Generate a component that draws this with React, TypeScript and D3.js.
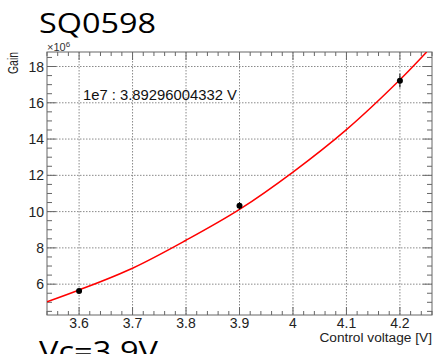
import { useEffect } from 'react';
import * as d3 from 'd3';

const voltages = [3.6, 3.9, 4.2];
const gains = [5.63, 10.32, 17.22];
const gainErrors = [0.1, 0.2, 0.38];

// fitted curve
const fitVoltages = [3.54, 3.6, 3.7, 3.8, 3.9, 4.0, 4.1, 4.2, 4.25];
const fitGains = [5.03, 5.68, 6.88, 8.42, 10.12, 12.18, 14.52, 17.27, 18.8];

const xTicks = [3.6, 3.7, 3.8, 3.9, 4.0, 4.1, 4.2];
const xTickLabels = ['3.6', '3.7', '3.8', '3.9', '4', '4.1', '4.2'];
const yTicks = [6, 8, 10, 12, 14, 16, 18];

const W = 437;
const H = 354;
const left = 47;
const right = 432;
const top = 52;
const bottom = 315;

export default function App() {
  useEffect(() => {
    document.body.style.margin = '0';
    document.body.style.overflow = 'hidden';
  }, []);

  const x = d3.scaleLinear().domain([3.54, 4.26]).range([left, right]);
  const y = d3.scaleLinear().domain([4.3, 18.8]).range([bottom, top]);

  const xMinor = d3.range(3.54, 4.2601, 0.02).filter((v) => !xTicks.some((t) => Math.abs(t - v) < 1e-6));
  const yMinor = d3.range(4.5, 18.8, 0.5).filter((v) => !yTicks.some((t) => Math.abs(t - v) < 1e-6));

  const fitLine = d3
    .line<number>()
    .x((_, i) => x(fitVoltages[i]))
    .y((d) => y(d))
    .curve(d3.curveCatmullRom);

  const frame = '#666';
  const gridColor = '#8a8a8a';
  const font = 'Arial, "Liberation Sans", sans-serif';
  const bigFont = '"Open Sans", "Noto Sans", sans-serif';

  return (
    <svg width={W} height={H} style={{ display: 'block', background: '#fff' }}>
      <defs>
        <clipPath id="plot">
          <rect x={left} y={top} width={right - left} height={bottom - top} />
        </clipPath>
      </defs>

      <text x={39} y={33} fontFamily={bigFont} fontSize={28} textLength={117} lengthAdjust="spacingAndGlyphs" fill="#000">
        SQ0598
      </text>
      {/* sits partly below the window, as in the slide */}
      <text x={39} y={361} fontFamily={bigFont} fontSize={28} textLength={119} lengthAdjust="spacingAndGlyphs" fill="#000">
        Vc=3.9V
      </text>

      {/* grid */}
      <g stroke={gridColor} strokeWidth={1} strokeDasharray="1.5,1.5">
        {xTicks.map((t) => (
          <line key={'gx' + t} x1={x(t)} x2={x(t)} y1={top} y2={bottom} />
        ))}
        {yTicks.map((t) => (
          <line key={'gy' + t} x1={left} x2={right} y1={y(t)} y2={y(t)} />
        ))}
      </g>

      {/* ticks on all four sides */}
      <g stroke={frame} strokeWidth={1}>
        {xTicks.map((t) => (
          <g key={'tx' + t}>
            <line x1={x(t)} x2={x(t)} y1={bottom} y2={bottom - 8} />
            <line x1={x(t)} x2={x(t)} y1={top} y2={top + 8} />
          </g>
        ))}
        {xMinor.map((t) => (
          <g key={'mx' + t}>
            <line x1={x(t)} x2={x(t)} y1={bottom} y2={bottom - 4} />
            <line x1={x(t)} x2={x(t)} y1={top} y2={top + 4} />
          </g>
        ))}
        {yTicks.map((t) => (
          <g key={'ty' + t}>
            <line x1={left} x2={left + 9} y1={y(t)} y2={y(t)} />
            <line x1={right} x2={right - 9} y1={y(t)} y2={y(t)} />
          </g>
        ))}
        {yMinor.map((t) => (
          <g key={'my' + t}>
            <line x1={left} x2={left + 5} y1={y(t)} y2={y(t)} />
            <line x1={right} x2={right - 5} y1={y(t)} y2={y(t)} />
          </g>
        ))}
      </g>

      <rect x={left} y={top} width={right - left} height={bottom - top} fill="none" stroke={frame} strokeWidth={1} />

      {/* fit */}
      <path d={fitLine(fitGains) ?? ''} fill="none" stroke="#ff0000" strokeWidth={1.5} clipPath="url(#plot)" />

      {/* data points with errors */}
      {voltages.map((v, i) => (
        <g key={'p' + v}>
          <line x1={x(v)} x2={x(v)} y1={y(gains[i] - gainErrors[i])} y2={y(gains[i] + gainErrors[i])} stroke="#000" strokeWidth={1} />
          <circle cx={x(v)} cy={y(gains[i])} r={3} fill="#000" />
        </g>
      ))}

      <text x={83} y={100} fontFamily={font} fontSize={14.8} fill="#111">
        1e7 : 3.89296004332 V
      </text>

      {/* axis labels */}
      <g fontFamily={font} fontSize={14} fill="#222">
        {xTicks.map((t, i) => (
          <text key={'lx' + t} x={x(t)} y={328} textAnchor="middle">
            {xTickLabels[i]}
          </text>
        ))}
        {yTicks.map((t) => (
          <text key={'ly' + t} x={44} y={y(t) + 5} textAnchor="end">
            {t}
          </text>
        ))}
      </g>

      <text x={right} y={342} textAnchor="end" fontFamily={font} fontSize={13.7} fill="#222">
        Control voltage [V]
      </text>
      <text
        transform={`translate(18,${top}) rotate(-90)`}
        textAnchor="end"
        fontFamily={font}
        fontSize={14}
        textLength={22}
        lengthAdjust="spacingAndGlyphs"
        fill="#222"
      >
        Gain
      </text>
      <text x={47} y={51} fontFamily={font} fontSize={11} fill="#333">
        ×10
        <tspan dy={-4} fontSize={8}>
          6
        </tspan>
      </text>
    </svg>
  );
}
